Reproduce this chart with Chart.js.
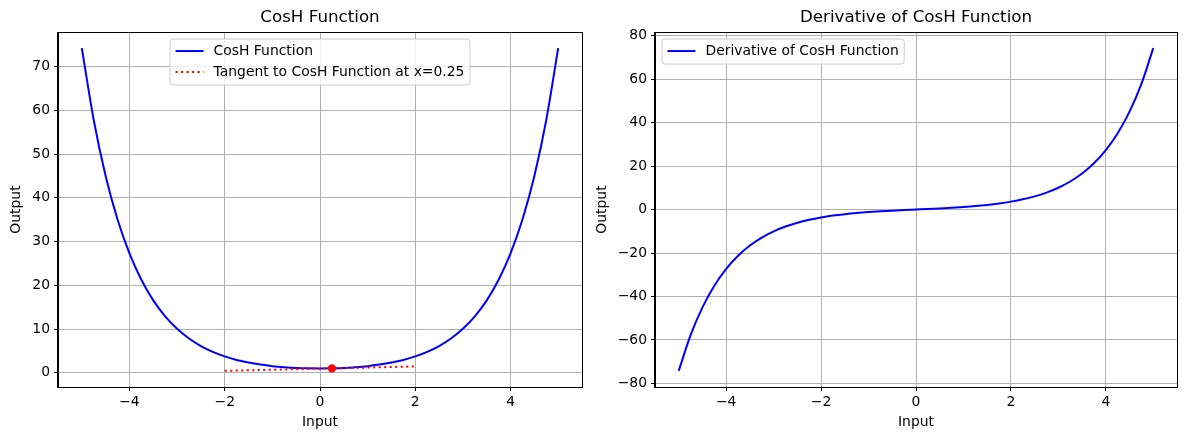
<!DOCTYPE html>
<html>
<head>
<meta charset="utf-8">
<script src="https://cdn.jsdelivr.net/npm/chart.js@4.4.1/dist/chart.umd.min.js"></script>
<style>
  html, body { margin: 0; padding: 0; background: #fff; overflow: hidden; }
  #wrap { position: relative; width: 1189px; height: 440px; overflow: hidden; }
  canvas { position: absolute; top: 0; }
  #left { left: 0; }
  #right { left: 594px; }
</style>
</head>
<body>
<div id="wrap">
  <canvas id="left" width="594" height="440"></canvas>
  <canvas id="right" width="595" height="440"></canvas>
</div>
<script>
// values
const inputs = [-5, -4.75, -4.5, -4.25, -4, -3.75, -3.5, -3.25, -3, -2.75, -2.5, -2.25, -2, -1.75, -1.5, -1.25, -1, -0.75, -0.5, -0.25,
  0, 0.25, 0.5, 0.75, 1, 1.25, 1.5, 1.75, 2, 2.25, 2.5, 2.75, 3, 3.25, 3.5, 3.75, 4, 4.25, 4.5, 4.75, 5];
const coshValues = [74.21, 57.8, 45.01, 35.07, 27.31, 21.27, 16.57, 12.92, 10.07, 7.85, 6.13, 4.8, 3.76, 2.96, 2.35, 1.89, 1.54, 1.3, 1.13, 1.03,
  1.0, 1.03, 1.13, 1.3, 1.54, 1.89, 2.35, 2.96, 3.76, 4.8, 6.13, 7.85, 10.07, 12.92, 16.57, 21.27, 27.31, 35.07, 45.01, 57.8, 74.21];
const derivValues = [-74.2, -57.79, -45.0, -35.05, -27.29, -21.25, -16.54, -12.88, -10.02, -7.79, -6.05, -4.69, -3.63, -2.79, -2.13, -1.6, -1.18, -0.82, -0.52, -0.25,
  0, 0.25, 0.52, 0.82, 1.18, 1.6, 2.13, 2.79, 3.63, 4.69, 6.05, 7.79, 10.02, 12.88, 16.54, 21.25, 27.29, 35.05, 45.0, 57.79, 74.2];
const tangentX = [-2, 2];
const tangentY = [0.46, 1.47];
const markX = [0.25];
const markY = [1.03];

const xTicks = [-4, -2, 0, 2, 4];
const leftYTicks = [0, 10, 20, 30, 40, 50, 60, 70];
const rightYTicks = [-80, -60, -40, -20, 0, 20, 40, 60, 80];

const FONT = 'DejaVu Sans';
const TICK_SIZE = 13.9;
Chart.defaults.font.family = FONT;
Chart.defaults.color = '#000';

function pts(xs, ys) {
  return xs.map((x, i) => ({ x: x, y: ys[i] }));
}

function fmt(v) {
  return String(v).replace('-', '\u2212');
}

// matplotlib style 5% margins
function limits(values) {
  const lo = Math.min(...values), hi = Math.max(...values);
  const m = (hi - lo) * 0.05;
  return [lo - m, hi + m];
}

// full box around the axes
const frame = {
  id: 'frame',
  afterDraw(chart) {
    const a = chart.chartArea;
    const ctx = chart.ctx;
    ctx.save();
    ctx.strokeStyle = '#000';
    ctx.lineWidth = 1;
    ctx.strokeRect(Math.round(a.left) - 0.5, Math.round(a.top) + 0.5, Math.round(a.right - a.left) + 1, Math.round(a.bottom - a.top));
    ctx.restore();
  }
};

// legend drawn inside the plot area like matplotlib
const innerLegend = {
  id: 'innerLegend',
  afterDraw(chart, args, opts) {
    const ctx = chart.ctx;
    const area = chart.chartArea;
    const items = chart.data.datasets.filter(d => d.label);
    const fs = TICK_SIZE;
    const pad = 5.5, handleLen = 28, textPad = 10, spacing = 7, rowH = 14, axPad = 7;
    ctx.save();
    ctx.font = fs + 'px "' + FONT + '"';
    const textW = Math.max(...items.map(d => ctx.measureText(d.label).width));
    const w = pad * 2 + handleLen + textPad + textW;
    const h = pad * 2 + rowH * items.length + spacing * (items.length - 1);
    let x0 = area.left + axPad;
    if (opts.loc === 'upper center') x0 = (area.left + area.right) / 2 - w / 2;
    const y0 = area.top + axPad;
    ctx.beginPath();
    ctx.roundRect(x0, y0, w, h, 3);
    ctx.fillStyle = 'rgba(255,255,255,0.8)';
    ctx.fill();
    ctx.strokeStyle = '#cccccc';
    ctx.lineWidth = 1;
    ctx.stroke();
    items.forEach((d, i) => {
      const cy = y0 + pad + rowH / 2 - 0.5 + i * (rowH + spacing);
      ctx.beginPath();
      ctx.setLineDash(d.borderDash || []);
      ctx.strokeStyle = d.borderColor;
      ctx.lineWidth = d.borderWidth;
      ctx.moveTo(x0 + pad, cy);
      ctx.lineTo(x0 + pad + handleLen, cy);
      ctx.stroke();
      ctx.setLineDash([]);
      ctx.fillStyle = '#000';
      ctx.textBaseline = 'middle';
      ctx.fillText(d.label, x0 + pad + handleLen + textPad, cy);
    });
    ctx.restore();
  }
};

function makeChart(id, opts) {
  const [yMin, yMax] = opts.yLim;
  return new Chart(document.getElementById(id), {
    type: 'line',
    data: { datasets: opts.datasets },
    plugins: [innerLegend, frame],
    options: {
      responsive: false,
      animation: false,
      devicePixelRatio: 1,
      layout: { padding: { left: 0, right: 12, top: 0, bottom: 0 } },
      plugins: {
        legend: { display: false },
        tooltip: { enabled: false },
        title: {
          display: true,
          fullSize: false, // centre over the plot area, not the canvas
          text: opts.title,
          font: { size: 16.7, weight: 'normal' },
          color: '#000',
          padding: { top: 8, bottom: 4 }
        },
        innerLegend: { loc: opts.legendLoc }
      },
      scales: {
        x: {
          type: 'linear',
          min: -5.5,
          max: 5.5,
          afterBuildTicks: s => { s.ticks = xTicks.map(v => ({ value: v })); },
          afterFit: s => { s.height = 53; },
          ticks: { font: { size: TICK_SIZE }, padding: 3, maxRotation: 0, callback: v => fmt(v) },
          grid: { color: '#b0b0b0', lineWidth: 1, tickColor: '#000', tickLength: 4 },
          border: { color: '#000', width: 1 },
          title: { display: true, text: 'Input', font: { size: TICK_SIZE }, padding: { top: 0, bottom: 9.5 } }
        },
        y: {
          min: yMin,
          max: yMax,
          afterBuildTicks: s => { s.ticks = opts.yTicks.map(v => ({ value: v })); },
          afterFit: s => { s.width = opts.axisWidth; },
          ticks: { font: { size: TICK_SIZE }, padding: 4, callback: v => fmt(v) },
          grid: { color: '#b0b0b0', lineWidth: 1, tickColor: '#000', tickLength: 4 },
          border: { color: '#000', width: 1 },
          title: { display: true, text: 'Output', font: { size: TICK_SIZE }, padding: { top: opts.titleOffset, bottom: 0 } }
        }
      }
    }
  });
}

makeChart('left', {
  title: 'CosH Function',
  legendLoc: 'upper center',
  yTicks: leftYTicks,
  yLim: limits(coshValues.concat(tangentY, markY)),
  axisWidth: 58,
  titleOffset: 8,
  datasets: [
    {
      label: 'CosH Function',
      data: pts(inputs, coshValues),
      borderColor: 'blue',
      borderWidth: 2,
      pointRadius: 0,
      cubicInterpolationMode: 'monotone',
      order: 3
    },
    {
      label: 'Tangent to CosH Function at x=0.25',
      data: pts(tangentX, tangentY),
      borderColor: 'red',
      borderWidth: 2,
      borderDash: [2.1, 3.4],
      pointRadius: 0,
      order: 2
    },
    {
      label: '',
      data: pts(markX, markY),
      showLine: false,
      pointRadius: 4.2,
      pointBackgroundColor: 'red',
      pointBorderColor: 'red',
      pointBorderWidth: 0,
      order: 1
    }
  ]
});

makeChart('right', {
  title: 'Derivative of CosH Function',
  legendLoc: 'upper left',
  yTicks: rightYTicks,
  yLim: limits(derivValues),
  axisWidth: 61,
  titleOffset: 0,
  datasets: [
    {
      label: 'Derivative of CosH Function',
      data: pts(inputs, derivValues),
      borderColor: 'blue',
      borderWidth: 2,
      pointRadius: 0,
      cubicInterpolationMode: 'monotone'
    }
  ]
});
</script>
</body>
</html>
